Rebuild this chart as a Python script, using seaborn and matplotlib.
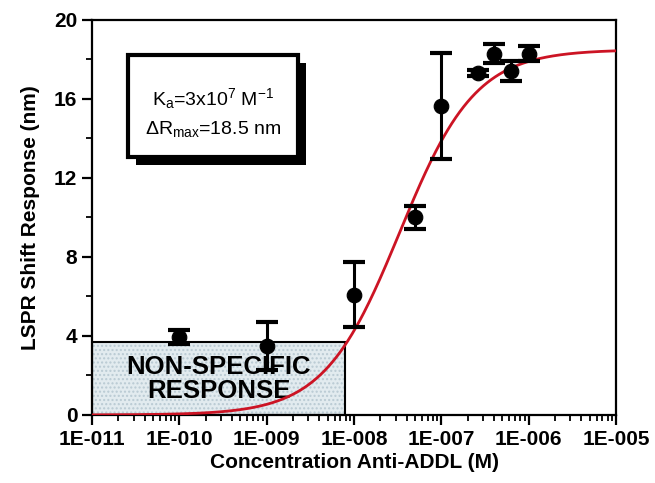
"""
LSPR shift response vs anti-ADDL concentration, Langmuir fit
"""

import numpy as np
import pandas as pd
import seaborn as sns
import matplotlib
matplotlib.use("Agg")
import matplotlib.pyplot as plt
from matplotlib.patches import Rectangle
from matplotlib.ticker import FixedLocator, LogLocator, NullFormatter

conc = [1e-10, 1e-9, 1e-8, 5e-8, 1e-7, 2.6e-7, 4e-7, 6.2e-7, 1e-6]
shift = [3.95, 3.5, 6.1, 10.0, 15.65, 17.3, 18.3, 17.4, 18.3]
err = [0.35, 1.2, 1.65, 0.6, 2.7, 0.15, 0.5, 0.5, 0.4]

# fit parameters shown in the box
ka = 3e7
r_max = 18.5

x_ticks = [1e-11, 1e-10, 1e-9, 1e-8, 1e-7, 1e-6, 1e-5]
x_labels = ["1E-011", "1E-010", "1E-009", "1E-008", "1E-007", "1E-006", "1E-005"]
y_ticks = [0, 4, 8, 12, 16, 20]

# non-specific region
ns_x = [1e-11, 7.9e-9]
ns_top = 3.7


def main():
    sns.set_style("ticks")
    plt.rcParams["font.family"] = ["Liberation Sans", "DejaVu Sans"]
    plt.rcParams["mathtext.fontset"] = "custom"
    plt.rcParams["mathtext.rm"] = "Liberation Sans"
    plt.rcParams["mathtext.it"] = "Liberation Sans"
    plt.rcParams["text.color"] = "black"
    plt.rcParams["axes.labelcolor"] = "black"
    plt.rcParams["xtick.color"] = "black"
    plt.rcParams["ytick.color"] = "black"
    plt.rcParams["axes.edgecolor"] = "black"

    fig = plt.figure(figsize=(6.55, 4.83), dpi=100)
    ax = fig.add_axes([0.1405, 0.1408, 0.80, 0.8178])

    # non-specific box
    w = ns_x[1] - ns_x[0]
    ax.add_patch(Rectangle((ns_x[0], 0), w, ns_top, facecolor="#e2ebef",
                           edgecolor="#b9cad3", hatch="....", lw=0, zorder=1))
    ax.add_patch(Rectangle((ns_x[0], 0), w, ns_top, facecolor="none",
                           edgecolor="black", lw=1.5, zorder=2))
    ax.text(np.sqrt(ns_x[0] * ns_x[1]), 1.8, "NON-SPECIFIC\nRESPONSE",
            ha="center", va="center", fontsize=18.5, fontweight="bold",
            linespacing=1.0, zorder=3)

    # fit curve
    cx = np.logspace(-11, -5, 400)
    fit = pd.DataFrame({"c": cx, "r": r_max * ka * cx / (1 + ka * cx)})
    sns.lineplot(data=fit, x="c", y="r", color="#cc1424", lw=2, ax=ax, zorder=4)

    df = pd.DataFrame({"c": conc, "r": shift, "e": err})
    ax.errorbar(df["c"], df["r"], yerr=df["e"], fmt="none", ecolor="black",
                elinewidth=2.2, capsize=8, capthick=3, zorder=5)
    sns.scatterplot(data=df, x="c", y="r", color="black", s=110,
                    edgecolor="black", ax=ax, zorder=6)

    ax.set_xscale("log")
    ax.set_xlim(1e-11, 1e-5)
    ax.set_ylim(0, 20)
    ax.xaxis.set_major_locator(FixedLocator(x_ticks))
    ax.set_xticklabels(x_labels)
    ax.xaxis.set_minor_locator(LogLocator(base=10, subs=np.arange(2, 10), numticks=20))
    ax.xaxis.set_minor_formatter(NullFormatter())
    ax.set_yticks(y_ticks)
    ax.set_yticks([2, 6, 10, 14, 18], minor=True)

    for s in ax.spines.values():
        s.set_linewidth(1.6)
    ax.tick_params(which="major", length=7, width=1.6, labelsize=15, direction="out")
    ax.tick_params(which="minor", length=4, width=1.3, direction="out")
    for lbl in ax.get_xticklabels() + ax.get_yticklabels():
        lbl.set_fontweight("bold")

    ax.set_xlabel("Concentration Anti-ADDL (M)", fontsize=15, fontweight="bold", labelpad=3)
    ax.set_ylabel("LSPR Shift Response (nm)", fontsize=15, fontweight="bold", labelpad=10)

    # parameter box with shadow
    ax.add_patch(Rectangle((0.084, 0.633), 0.324, 0.258, transform=ax.transAxes,
                           facecolor="black", edgecolor="black", lw=0, zorder=7))
    ax.add_patch(Rectangle((0.069, 0.653), 0.324, 0.258, transform=ax.transAxes,
                           facecolor="white", edgecolor="black", lw=3, zorder=8))
    ax.text(0.231, 0.80, r"K$_\mathrm{a}$=3x10$^7$ M$^{-1}$", transform=ax.transAxes,
            ha="center", va="center", fontsize=14, zorder=9)
    ax.text(0.231, 0.725, r"$\Delta$R$_\mathrm{max}$=18.5 nm", transform=ax.transAxes,
            ha="center", va="center", fontsize=14, zorder=9)

    fig.savefig("out.png", dpi=100)


if __name__ == "__main__":
    main()
